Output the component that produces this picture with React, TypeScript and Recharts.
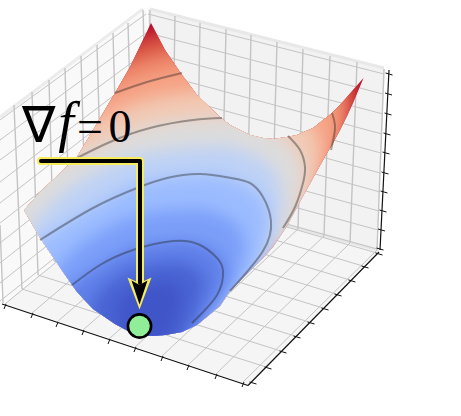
import { Area, ComposedChart, Line, ReferenceDot, XAxis, YAxis } from 'recharts';

const WIDTH = 461;
const HEIGHT = 416;

// panes: [x, top, bottom]
const LEFT_WALL = [[0, 118, 225], [3, 116, 303], [147, 9, 187]];
const RIGHT_WALL = [[148, 9, 187], [377, 67, 250], [385, 69, 69]];
const FLOOR = [[3, 304, 304], [148, 187, 351], [248, 214, 385], [379, 250, 250]];

// grid on the left wall
const LEFT_ROW_Y0 = [120, 140, 160, 182, 203, 223, 243, 263, 283, 301];
const LEFT_ROW_Y1 = [14, 33, 52, 71, 90, 109, 128, 148, 167, 186];
const LEFT_COL_X0 = [14, 32, 49, 65, 81, 97, 113, 128, 143];
const LEFT_COL_Y0 = [105, 92, 80, 68, 56, 45, 33, 23, 10];
const LEFT_COL_X1 = [22, 38, 54, 70, 86, 102, 118, 133, 148];
const LEFT_COL_Y1 = [289, 275, 261, 248, 235, 222, 210, 198, 187];

// grid on the right wall
const RIGHT_ROW_X1 = [384, 383, 383, 382, 381, 380, 380, 379, 378, 377];
const RIGHT_ROW_Y1 = [74, 94, 114, 134, 153, 173, 192, 211, 230, 249];
const RIGHT_COL_X0 = [150, 175, 200, 226, 251, 277, 303, 330, 357, 384];
const RIGHT_COL_Y0 = [10, 16, 23, 29, 35, 42, 49, 56, 62, 69];
const RIGHT_COL_X1 = [148, 172, 197, 222, 247, 272, 298, 324, 350, 377];
const RIGHT_COL_Y1 = [187, 194, 201, 208, 215, 222, 229, 236, 243, 250];

// ticks along the front edges, also the ends of the floor grid
const FRONT_LEFT_X = [5, 32, 57, 83, 109, 135, 162, 188, 216, 243];
const FRONT_LEFT_Y = [306, 315, 324, 332, 341, 349, 358, 367, 376, 384];
const FRONT_RIGHT_X = [253, 268, 283, 297, 311, 325, 338, 352, 365, 379];
const FRONT_RIGHT_Y = [383, 368, 352, 337, 323, 309, 295, 281, 267, 254];
const Z_TICK_X = [389, 388.5, 388, 387, 386, 385, 384, 383, 381.5, 380];

// outline of the surface: x with the top and bottom edge
const SURFACE_X = [24, 40, 57, 63, 77, 93, 115, 130, 142, 151, 165, 182, 197, 220, 230, 250, 263, 273, 287, 297, 313, 327, 332, 340, 347, 353, 363.5];
const SURFACE_TOP = [210, 192, 176, 170, 157, 130, 93, 67, 42, 23, 50, 75, 95, 117, 125, 135, 138, 139, 137, 135, 128, 117, 113, 105, 97, 90, 78];
const SURFACE_BOTTOM = [210, 238, 263, 272, 292, 309, 324, 332, 336, 336, 335, 332, 325, 306, 291, 271, 258, 247, 226, 207, 178, 153, 145, 130, 116, 103, 78];
const SURFACE_BASE = '#b40426';

// colour levels of the surface, outermost first
const LEVEL_COLORS = ['#d44e41', '#ee8468', '#f6a385', '#f2c9b4', '#dddcdc', '#bed2f6', '#9bbcff', '#7b9ff9', '#5f7fe8', '#4a63d3', '#4055c8'];
const LEVEL_X = [
  [0, 5, 32, 85, 174, 263, 316, 350, 358],
  [2, 10, 36, 87, 172, 257, 308, 340, 350],
  [7, 15, 40, 88, 170, 252, 300, 330, 340],
  [9, 17, 40, 86, 162, 238, 284, 312, 322],
  [3, 20, 41, 84, 155, 226, 269, 295, 305],
  [21, 28, 47, 86, 152, 218, 257, 276, 283],
  [28, 37, 55, 90, 150, 210, 245, 263, 269],
  [48, 53, 68, 97, 147, 197, 226, 241, 246],
  [63, 67, 80, 104, 145, 186, 210, 222, 227],
  [91, 94, 103, 120, 148, 176, 193, 202, 205],
  [118, 120, 124, 134, 150, 166, 176, 180, 182],
];
const LEVEL_TOP = [
  [176, 141, 104, 63, 28, 20, 34, 70, 90],
  [191, 158, 122, 83, 49, 41, 55, 85, 105],
  [205, 173, 140, 102, 69, 62, 75, 100, 125],
  [224, 194, 162, 127, 96, 89, 102, 125, 150],
  [185, 180, 170, 152, 123, 117, 129, 150, 170],
  [261, 236, 209, 178, 152, 146, 157, 174, 200],
  [248, 242, 231, 209, 180, 175, 185, 200, 221],
  [296, 277, 256, 234, 213, 209, 217, 230, 247],
  [292, 289, 279, 263, 245, 241, 248, 259, 273],
  [312, 301, 289, 276, 265, 262, 267, 274, 284],
  [310, 304, 297, 290, 283, 282, 284, 289, 294],
];
const LEVEL_BOTTOM = [
  [176, 206, 280, 360, 360, 240, 180, 115, 90],
  [191, 220, 280, 360, 360, 250, 200, 135, 105],
  [205, 233, 285, 360, 360, 265, 215, 158, 125],
  [224, 250, 290, 360, 360, 285, 232, 190, 150],
  [185, 266, 295, 360, 360, 300, 250, 222, 170],
  [261, 284, 305, 360, 360, 305, 265, 235, 200],
  [248, 300, 320, 360, 360, 315, 280, 250, 221],
  [296, 313, 330, 360, 360, 335, 298, 267, 247],
  [292, 327, 338, 360, 360, 340, 306, 289, 273],
  [312, 330, 345, 355, 355, 345, 320, 295, 284],
  [310, 325, 340, 350, 350, 345, 320, 305, 294],
];

// contour lines on the surface
const CONTOURS = [
  [[72, 285], [100, 265], [133, 250], [173, 241], [200, 245], [217, 258], [223, 271], [217, 295], [192, 323]],
  [[40, 240], [93, 208], [137, 188], [167, 178], [200, 174], [231, 178], [250, 183], [263, 197], [271, 221], [263, 251], [230, 291]],
  [[77, 158], [110, 142], [150, 128], [193, 120], [222, 118]],
  [[288, 136], [300, 150], [305, 167], [303, 183], [295, 207], [283, 228]],
  [[115, 93], [147, 82], [182, 73]],
  [[332, 113], [335, 128], [331, 150]],
];

// annotation
const ARROW_SHAFT = [[41, 161], [140, 161], [140, 283]];
const ARROW_HEAD_OUTER = [[127.5, 277.5, 277.5], [139.5, 283, 309.5], [151.5, 277.5, 277.5]];
const ARROW_HEAD_INNER = [[131.5, 280.5, 280.5], [139.5, 285, 304.5], [147.5, 280.5, 280.5]];
const MINIMUM = { x: 139.5, y: 326 };
const FORMULA_GLYPHS = ['∇', 'f', '=', '0'];
const FORMULA_X = [38, 66, 90, 120];
const FORMULA_Y = [124, 121, 126, 126];
const FORMULA_SIZE = [50, 56, 46, 46];

const toPoints = (rows: number[][]) => rows.map(([x, y]) => ({ x, y }));
const toSpans = (rows: number[][]) => rows.map(([x, top, bottom]) => ({ x, span: [top, bottom] }));

// one series per group of segments, a null y breaks the line
const toSegments = (x0: number[], y0: number[], x1: number[], y1: number[]) =>
  x0.flatMap((x, i) => [
    { x, y: y0[i] },
    { x: x1[i], y: y1[i] },
    { x: x1[i], y: null },
  ]);

const same = (v: number, n: number) => Array.from({ length: n }, () => v);
const shift = (values: number[], by: number) => values.map((v) => v + by);

const surfaceOutline =
  'M' +
  SURFACE_X.map((x, i) => `${x},${SURFACE_TOP[i]}`).join('L') +
  'L' +
  SURFACE_X.map((x, i) => `${x},${SURFACE_BOTTOM[i]}`).reverse().join('L') +
  'Z';
const surfaceSpans = SURFACE_X.map((x, i) => [x, SURFACE_TOP[i], SURFACE_BOTTOM[i]]);

const floorA = toSegments(FRONT_LEFT_X, shift(FRONT_LEFT_Y, -2), RIGHT_COL_X1, RIGHT_COL_Y1);
const floorB = toSegments(
  shift(FRONT_RIGHT_X.slice(1), -2),
  shift(FRONT_RIGHT_Y.slice(1), -1),
  LEFT_COL_X1,
  LEFT_COL_Y1,
);

const wallGrid = '#c4c4c4';
const tick = '#111111';
const yellow = '#f7ec5e';

export default function App() {
  let z = 1;
  const seg = (key: string, data: any[], stroke: string, strokeWidth: number, extra: any = {}) => (
    <Line
      key={key}
      data={data}
      dataKey="y"
      stroke={stroke}
      strokeWidth={strokeWidth}
      dot={false}
      activeDot={false}
      type="linear"
      isAnimationActive={false}
      zIndex={z++}
      {...extra}
    />
  );
  const pane = (key: string, rows: number[][], fill: string) => (
    <Area
      key={key}
      data={toSpans(rows)}
      dataKey="span"
      type="linear"
      fill={fill}
      fillOpacity={1}
      stroke="none"
      dot={false}
      activeDot={false}
      isAnimationActive={false}
      zIndex={z++}
    />
  );

  return (
    <div style={{ position: 'absolute', left: 0, top: 0, width: WIDTH, height: HEIGHT }}>
      <style>{`.surface-band { filter: url(#soft); clip-path: url(#surface-clip); }`}</style>
      <ComposedChart width={WIDTH} height={HEIGHT} margin={{ top: 0, right: 0, bottom: 0, left: 0 }}>
        <defs>
          <filter id="soft" filterUnits="userSpaceOnUse" x={0} y={0} width={WIDTH} height={HEIGHT}>
            <feGaussianBlur stdDeviation={8} />
          </filter>
          <clipPath id="surface-clip">
            <path d={surfaceOutline} />
          </clipPath>
        </defs>
        <XAxis type="number" dataKey="x" domain={[0, WIDTH]} hide allowDataOverflow />
        <YAxis type="number" domain={[0, HEIGHT]} reversed hide allowDataOverflow />

        {pane('left-wall', LEFT_WALL, '#f9f9f9')}
        {pane('right-wall', RIGHT_WALL, '#f2f2f2')}
        {pane('floor', FLOOR, '#f5f5f5')}

        {seg('edge-top-left', toPoints([[0, 117], [143, 9]]), '#ececec', 3)}
        {seg('edge-top-right', toPoints([[150, 9], [384, 68]]), '#e8e8e8', 3)}
        {seg('edge-bottom-right', toPoints([[148, 187], [378, 250]]), '#e6e6e6', 3)}

        {seg('left-rows', toSegments(same(0, 10), LEFT_ROW_Y0, same(146, 10), LEFT_ROW_Y1), wallGrid, 1)}
        {seg('left-cols', toSegments(LEFT_COL_X0, LEFT_COL_Y0, LEFT_COL_X1, LEFT_COL_Y1), wallGrid, 1.4)}
        {seg('left-end', toPoints([[0, 225], [3, 303]]), wallGrid, 1.4)}
        {seg('right-rows', toSegments(same(148, 10), LEFT_ROW_Y1, RIGHT_ROW_X1, RIGHT_ROW_Y1), wallGrid, 1)}
        {seg('right-cols', toSegments(RIGHT_COL_X0, RIGHT_COL_Y0, RIGHT_COL_X1, RIGHT_COL_Y1), wallGrid, 1.4)}
        {seg('floor-a', floorA, wallGrid, 1)}
        {seg('floor-b', floorB, wallGrid, 1)}

        {pane('surface', surfaceSpans, SURFACE_BASE)}
        {LEVEL_COLORS.map((color, i) => (
          <Area
            key={color}
            className="surface-band"
            data={LEVEL_X[i].map((x, j) => ({ x, span: [LEVEL_TOP[i][j], LEVEL_BOTTOM[i][j]] }))}
            dataKey="span"
            type="monotone"
            fill={color}
            fillOpacity={1}
            stroke="none"
            dot={false}
            activeDot={false}
            isAnimationActive={false}
            zIndex={z++}
          />
        ))}
        {CONTOURS.map((points, i) =>
          seg(`contour-${i}`, toPoints(points), '#222222', 2, { type: 'natural', strokeOpacity: 0.4 }),
        )}

        {seg('axis-left', toPoints([[2, 304], [248, 385.5]]), tick, 1.2)}
        {seg('axis-right', toPoints([[248, 385.5], [379, 252]]), tick, 1.2)}
        {seg('axis-z', toPoints([[389, 70], [380, 250]]), tick, 1.2)}
        {seg(
          'ticks-left',
          toSegments(shift(FRONT_LEFT_X, 1), shift(FRONT_LEFT_Y, -2), shift(FRONT_LEFT_X, -1), shift(FRONT_LEFT_Y, 3)),
          tick,
          1,
        )}
        {seg(
          'ticks-right',
          toSegments(shift(FRONT_RIGHT_X, -3.5), shift(FRONT_RIGHT_Y, -1), shift(FRONT_RIGHT_X, 3.5), shift(FRONT_RIGHT_Y, 1)),
          tick,
          1,
        )}
        {seg(
          'ticks-z',
          toSegments(shift(Z_TICK_X, -3.5), shift(RIGHT_ROW_Y1, -1), shift(Z_TICK_X, 3.5), shift(RIGHT_ROW_Y1, 1)),
          tick,
          1,
        )}

        {seg('shaft-glow', toPoints(ARROW_SHAFT), yellow, 8, { strokeLinecap: 'round', strokeLinejoin: 'round' })}
        {pane('head-glow', ARROW_HEAD_OUTER, yellow)}
        {seg('shaft', toPoints(ARROW_SHAFT), '#000000', 4, { strokeLinecap: 'round', strokeLinejoin: 'round' })}
        {pane('head', ARROW_HEAD_INNER, '#000000')}
        <ReferenceDot x={MINIMUM.x} y={MINIMUM.y} r={11.6} fill="#90ee98" stroke="#000000" strokeWidth={2.6} zIndex={z++} />

        {FORMULA_GLYPHS.map((glyph, i) => (
          <ReferenceDot
            key={glyph}
            x={FORMULA_X[i]}
            y={FORMULA_Y[i]}
            r={1}
            fillOpacity={0}
            strokeOpacity={0}
            zIndex={z + 1}
            label={{
              value: glyph,
              position: 'center',
              fill: '#000000',
              fontSize: FORMULA_SIZE[i],
              fontFamily: "'Liberation Serif', serif",
              fontStyle: glyph === 'f' ? 'italic' : 'normal',
            }}
          />
        ))}
      </ComposedChart>
    </div>
  );
}
